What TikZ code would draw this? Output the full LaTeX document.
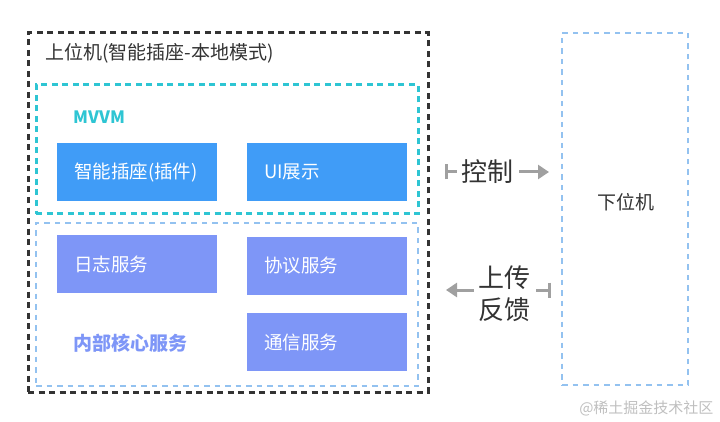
\documentclass[tikz,border=0pt]{standalone}
\usepackage{fontspec}
\setmainfont{Noto Sans CJK SC}
\usetikzlibrary{arrows.meta}

\definecolor{frameblack}{HTML}{333333}
\definecolor{mvvmcyan}{HTML}{2EC5D3}
\definecolor{coreblue}{HTML}{93C2F0}
\definecolor{plugblue}{HTML}{409CF7}
\definecolor{servblue}{HTML}{7E96F7}
\definecolor{arrowgray}{HTML}{A0A0A0}

\tikzset{
        frame/.style={draw, rectangle, line width=3pt, dash pattern=on 6pt off 4.5pt, inner sep=0},
        lightframe/.style={frame, line width=2.6pt, dash pattern=on 5.5pt off 5pt},
        svcbox/.style={rectangle, minimum width=160pt, minimum height=58pt, text width=126pt, inner xsep=17pt, align=left, text=white, font=\fontsize{18.5}{20}\selectfont},
        link/.style={draw=arrowgray, line width=3pt, {Bar[width=15pt,length=3pt]}-{Triangle[width=14pt,length=11pt]}},
        linklabel/.style={fill=white, text=frameblack, font=\fontsize{26}{32}\selectfont, inner sep=5pt, align=center}
}

\begin{document}
\begin{tikzpicture}[x=1pt,y=-1pt]
                \useasboundingbox (0,0) rectangle (720,422);

                % frames
                \node [frame, draw=frameblack, minimum width=400pt, minimum height=359pt] (Host) at (228,212.5) {};
                \node [frame, draw=mvvmcyan, minimum width=382pt, minimum height=129pt] (MVVM) at (227,149.5) {};
                \node [lightframe, draw=coreblue, minimum width=382pt, minimum height=163pt] (Core) at (227,304.5) {};
                \node [lightframe, draw=coreblue, minimum width=126pt, minimum height=352pt] (Slave) at (625,209) {};

                % titles
                \node [anchor=west, text=frameblack, font=\fontsize{19}{22}\selectfont, inner sep=0] (HostT) at (45,53) {上位机(智能插座-本地模式)};
                \node [anchor=west, text=mvvmcyan, font=\fontsize{17}{20}\selectfont\bfseries, inner sep=0] (MVVMT) at (73,117) {MVVM};
                \node [anchor=west, text=servblue, font=\fontsize{19}{22}\selectfont\bfseries, inner sep=0] (CoreT) at (73,343) {内部核心服务};
                \node [text=frameblack, font=\fontsize{19}{22}\selectfont] (SlaveT) at (626,202) {下位机};

                % boxes
                \node [svcbox, fill=plugblue] (Plug) at (137,172) {智能插座(插件)};
                \node [svcbox, fill=plugblue] (UI) at (327,172) {UI展示};
                \node [svcbox, fill=servblue] (Log) at (137,264) {日志服务};
                \node [svcbox, fill=servblue] (Proto) at (327,266) {协议服务};
                \node [svcbox, fill=servblue] (Comm) at (327,342) {通信服务};

                % links
                \coordinate (CtrlA) at (445,172);
                \coordinate (CtrlB) at (549,172);
                \coordinate (FbA) at (551,290);
                \coordinate (FbB) at (446,290);
                \path [link] (CtrlA) -- node [linklabel, pos=0.41] (CtrlT) {控制} (CtrlB);
                \path [link] (FbA) -- node [linklabel, pos=0.44, yshift=-4pt] (FbT) {上传\\反馈} (FbB);

                \node [anchor=east, text=black!25, font=\fontsize{15}{17}\selectfont] (Mark) at (717,408) {@稀土掘金技术社区};
        \end{tikzpicture}
\end{document}
